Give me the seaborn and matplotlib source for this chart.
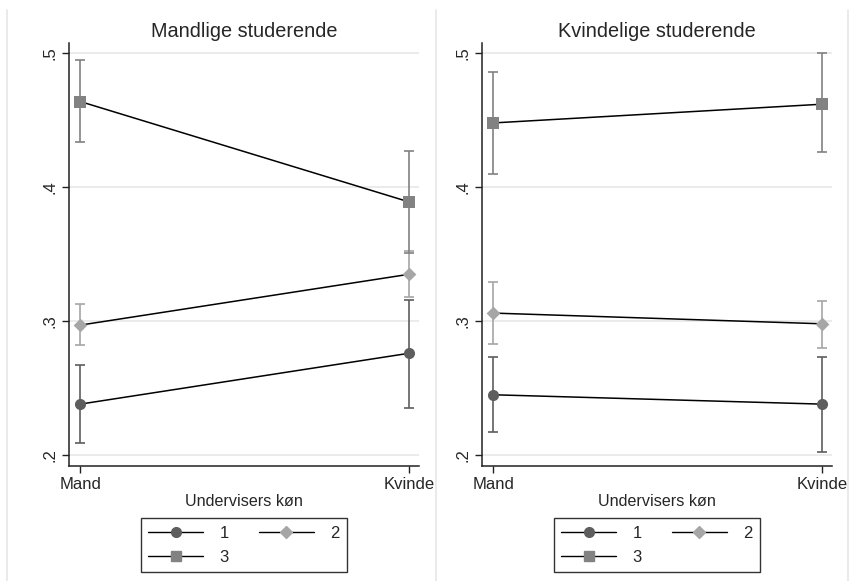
import numpy as np
import pandas as pd
import matplotlib
matplotlib.use("Agg")
import matplotlib.pyplot as plt
from matplotlib.lines import Line2D
import seaborn as sns

# data
teacher = ["Mand", "Kvinde"]
groups = ["1", "2", "3"]
panels = ["Mandlige studerende", "Kvindelige studerende"]

# male students
male_mean = {"1": [0.238, 0.276], "2": [0.297, 0.335], "3": [0.464, 0.389]}
male_lo = {"1": [0.209, 0.235], "2": [0.282, 0.318], "3": [0.434, 0.351]}
male_hi = {"1": [0.267, 0.316], "2": [0.313, 0.352], "3": [0.495, 0.427]}

# female students
female_mean = {"1": [0.245, 0.238], "2": [0.306, 0.298], "3": [0.448, 0.462]}
female_lo = {"1": [0.217, 0.202], "2": [0.283, 0.280], "3": [0.410, 0.426]}
female_hi = {"1": [0.273, 0.273], "2": [0.329, 0.315], "3": [0.486, 0.500]}

colors = {"1": "#5e5e5e", "2": "#a6a6a6", "3": "#828282"}
markers = {"1": "o", "2": "D", "3": "s"}
msize = {"1": 8, "2": 7, "3": 8}

rows = []
for panel, mean, lo, hi in [(panels[0], male_mean, male_lo, male_hi),
                            (panels[1], female_mean, female_lo, female_hi)]:
    for g in groups:
        for i, t in enumerate(teacher):
            rows.append({"panel": panel, "group": g, "x": i, "teacher": t,
                         "mean": mean[g][i], "lo": lo[g][i], "hi": hi[g][i]})
df = pd.DataFrame(rows)

sns.set_theme(style="white")
plt.rcParams["font.family"] = ["Liberation Sans", "DejaVu Sans"]

fig = plt.figure(figsize=(8.55, 5.81), dpi=100)
W, H = 855, 581

def fig_ax(x0, x1, ytop, ybot):
    return fig.add_axes([x0 / W, (H - ybot) / H, (x1 - x0) / W, (ybot - ytop) / H])

axes = [fig_ax(69, 419, 43, 466), fig_ax(482, 832, 43, 466)]

# light panel borders like a combined graph
for xp in [7, 436, 848]:
    fig.add_artist(Line2D([xp / W, xp / W], [(H - 10) / H, 0.0],
                          color="#e6e6e6", lw=1.2, transform=fig.transFigure))

for ax, panel in zip(axes, panels):
    sub = df[df["panel"] == panel]
    ax.set_ylim(0.1918, 0.5077)
    ax.set_xlim(-0.034, 1.03)
    ax.set_yticks([0.2, 0.3, 0.4, 0.5])
    ax.set_yticklabels([".2", ".3", ".4", ".5"], rotation=90, va="center", fontsize=12)
    ax.set_xticks([0, 1])
    ax.set_xticklabels(teacher, fontsize=12)
    ax.grid(axis="y", color="#e8e8e8", lw=1.2)
    ax.set_axisbelow(True)
    for g in groups:
        d = sub[sub["group"] == g]
        ax.errorbar(d["x"], d["mean"], yerr=[d["mean"] - d["lo"], d["hi"] - d["mean"]],
                    fmt="none", ecolor=colors[g], elinewidth=1.2, capsize=3.5,
                    capthick=1.2, zorder=2)
        sns.lineplot(data=d, x="x", y="mean", color="black", lw=1.1, ax=ax,
                     zorder=3, legend=False)
        sns.scatterplot(data=d, x="x", y="mean", color=colors[g], marker=markers[g],
                        s=msize[g] ** 2, edgecolor=colors[g], linewidth=0, ax=ax,
                        zorder=4, legend=False)
    ax.set_title(panel, fontsize=14.3, pad=4.5)
    ax.set_xlabel("Undervisers køn", fontsize=11.6, labelpad=1)
    ax.set_ylabel("")
    sns.despine(ax=ax)
    for s in ["left", "bottom"]:
        ax.spines[s].set_color("#222222")
        ax.spines[s].set_linewidth(1.1)
    ax.tick_params(axis="both", direction="out", length=5, width=1, color="#222222",
                   left=True, bottom=True, pad=3)

    # column-wise fill: order so that rows read 1 2 / 3
    order = ["1", "3", "2"]
    handles = [Line2D([0], [0], color="black", lw=1, marker=markers[g],
                      markerfacecolor=colors[g], markeredgecolor=colors[g],
                      markersize=msize[g] - 1) for g in order]
    leg = ax.legend(handles, order, loc="upper center", bbox_to_anchor=(0.5, -0.123),
                    ncol=2, fontsize=12, frameon=True, fancybox=False,
                    handlelength=3.3, handletextpad=1.0, columnspacing=1.8,
                    labelspacing=0.55, borderpad=0.45, borderaxespad=0)
    leg.get_frame().set_edgecolor("black")
    leg.get_frame().set_linewidth(1.0)

fig.savefig("out.png", dpi=100)
